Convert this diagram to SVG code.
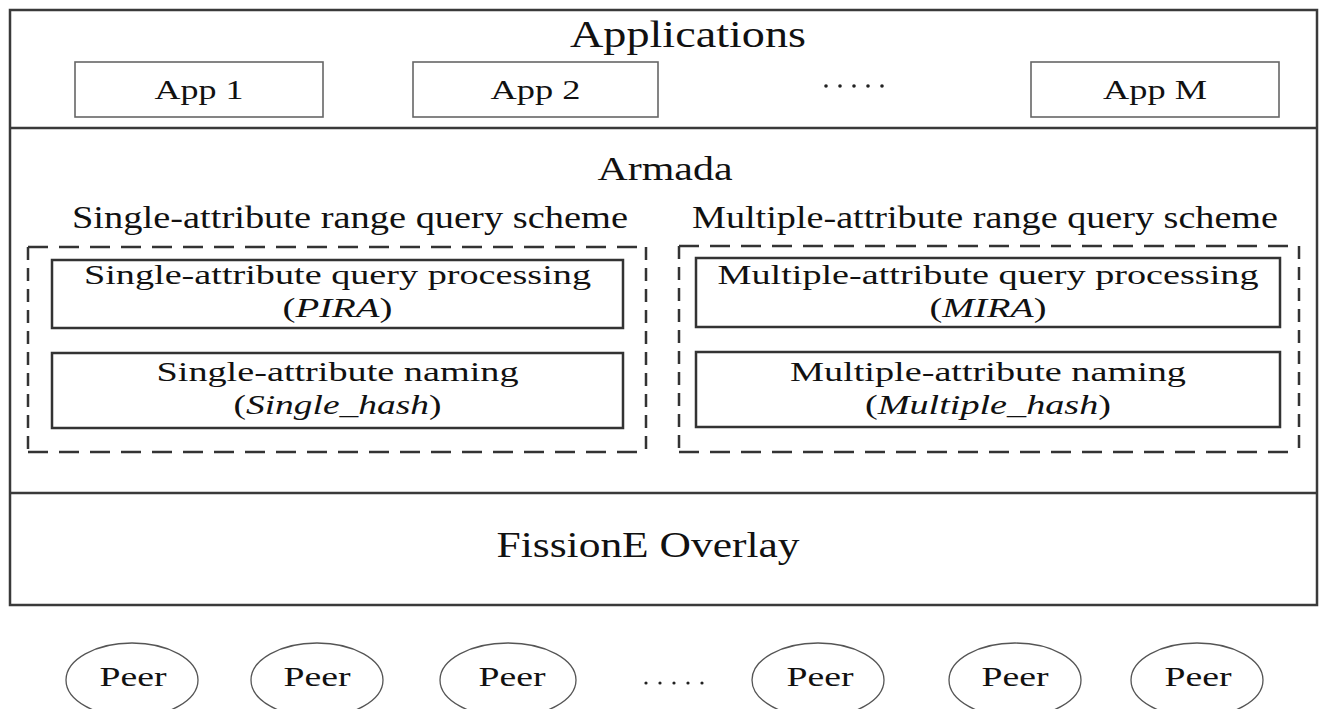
<svg xmlns="http://www.w3.org/2000/svg" width="1319" height="709" viewBox="0 0 1319 709">
<style>
text{font-family:"Liberation Serif","Times New Roman",serif;fill:#111;text-anchor:middle}
.it{font-style:italic}
.outer{fill:none;stroke:#3a3a3a;stroke-width:2.5}
.app{fill:#fff;stroke:#666;stroke-width:1.6}
.inner{fill:#fff;stroke:#333;stroke-width:2.5}
.dh{fill:none;stroke:#333;stroke-width:2.5;stroke-dasharray:20 11}
.dv{fill:none;stroke:#333;stroke-width:2.5;stroke-dasharray:13 8}
.peer{fill:#fff;stroke:#555;stroke-width:1.3}
.dot{fill:#222}
.t2{font-size:27px}
</style>
<rect width="1319" height="709" fill="#fff"/>
<g id="frame">
<rect class="outer" x="10" y="10" width="1307" height="595"/>
<line class="outer" x1="10" y1="128" x2="1317" y2="128" stroke="#888"/>
<line class="outer" x1="10" y1="493" x2="1317" y2="493"/>
</g>
<g id="applications">
<text x="688" y="47" font-size="37" textLength="236" lengthAdjust="spacingAndGlyphs">Applications</text>
</g>
<g id="app1"><rect class="app" x="75" y="62" width="248" height="55"/><text x="199" y="99" font-size="28" textLength="89" lengthAdjust="spacingAndGlyphs">App 1</text></g>
<g id="app2"><rect class="app" x="413" y="62" width="245" height="55"/><text x="535.5" y="99" font-size="28" textLength="90" lengthAdjust="spacingAndGlyphs">App 2</text></g>
<g id="appdots"><circle class="dot" cx="826" cy="86" r="1.8"/><circle class="dot" cx="840" cy="86" r="1.8"/><circle class="dot" cx="854" cy="86" r="1.8"/><circle class="dot" cx="868" cy="86" r="1.8"/><circle class="dot" cx="882" cy="86" r="1.8"/></g>
<g id="appM"><rect class="app" x="1031" y="62" width="248" height="55"/><text x="1155" y="99" font-size="28" textLength="104" lengthAdjust="spacingAndGlyphs">App M</text></g>
<g id="armada">
<text x="665" y="180" font-size="33" textLength="135" lengthAdjust="spacingAndGlyphs">Armada</text>
</g>
<g id="single-scheme">
<text x="350" y="228" font-size="31" textLength="556" lengthAdjust="spacingAndGlyphs">Single-attribute range query scheme</text>
<path class="dh" d="M28 247H646M28 452H646"/>
<path class="dv" d="M28 247V452M646 247V452"/>
</g>
<g id="pira"><rect class="inner" x="52" y="260" width="571" height="68"/>
<text class="t2" x="337.5" y="284" textLength="507" lengthAdjust="spacingAndGlyphs">Single-attribute query processing</text>
<text class="t2" x="337.5" y="317" textLength="110" lengthAdjust="spacingAndGlyphs">(<tspan class="it">PIRA</tspan>)</text></g>
<g id="single-hash"><rect class="inner" x="52" y="353" width="571" height="75"/>
<text class="t2" x="337.5" y="381" textLength="362" lengthAdjust="spacingAndGlyphs">Single-attribute naming</text>
<text class="t2" x="337.5" y="414" textLength="208" lengthAdjust="spacingAndGlyphs">(<tspan class="it">Single_hash</tspan>)</text></g>
<g id="multiple-scheme">
<text x="985" y="228" font-size="31" textLength="586" lengthAdjust="spacingAndGlyphs">Multiple-attribute range query scheme</text>
<path class="dh" d="M679 246H1299M679 452H1299"/>
<path class="dv" d="M679 246V452M1299 246V452"/>
</g>
<g id="mira"><rect class="inner" x="696" y="258" width="584" height="69"/>
<text class="t2" x="988" y="284" textLength="541" lengthAdjust="spacingAndGlyphs">Multiple-attribute query processing</text>
<text class="t2" x="988" y="317" textLength="117" lengthAdjust="spacingAndGlyphs">(<tspan class="it">MIRA</tspan>)</text></g>
<g id="multiple-hash"><rect class="inner" x="696" y="352" width="584" height="75"/>
<text class="t2" x="988" y="381" textLength="396" lengthAdjust="spacingAndGlyphs">Multiple-attribute naming</text>
<text class="t2" x="988" y="414" textLength="246" lengthAdjust="spacingAndGlyphs">(<tspan class="it">Multiple_hash</tspan>)</text></g>
<g id="fissione">
<text x="648" y="557" font-size="35" textLength="303" lengthAdjust="spacingAndGlyphs">FissionE Overlay</text>
</g>
<g id="peers">
<g id="peer1"><ellipse class="peer" cx="132" cy="680" rx="66" ry="37"/><text x="133" y="686" font-size="27" textLength="67" lengthAdjust="spacingAndGlyphs">Peer</text></g>
<g id="peer2"><ellipse class="peer" cx="317" cy="680" rx="66" ry="37"/><text x="317" y="686" font-size="27" textLength="67" lengthAdjust="spacingAndGlyphs">Peer</text></g>
<g id="peer3"><ellipse class="peer" cx="508" cy="680" rx="68" ry="37"/><text x="512" y="686" font-size="27" textLength="67" lengthAdjust="spacingAndGlyphs">Peer</text></g>
<g id="peerdots"><circle class="dot" cx="646" cy="683" r="1.6"/><circle class="dot" cx="660" cy="683" r="1.6"/><circle class="dot" cx="674" cy="683" r="1.6"/><circle class="dot" cx="688" cy="683" r="1.6"/><circle class="dot" cx="702" cy="683" r="1.6"/></g>
<g id="peer4"><ellipse class="peer" cx="818" cy="680" rx="66" ry="37"/><text x="820" y="686" font-size="27" textLength="67" lengthAdjust="spacingAndGlyphs">Peer</text></g>
<g id="peer5"><ellipse class="peer" cx="1015" cy="680" rx="66" ry="37"/><text x="1015" y="686" font-size="27" textLength="67" lengthAdjust="spacingAndGlyphs">Peer</text></g>
<g id="peer6"><ellipse class="peer" cx="1197" cy="680" rx="66" ry="37"/><text x="1198" y="686" font-size="27" textLength="67" lengthAdjust="spacingAndGlyphs">Peer</text></g>
</g>
<g id="connectors"></g>
</svg>
